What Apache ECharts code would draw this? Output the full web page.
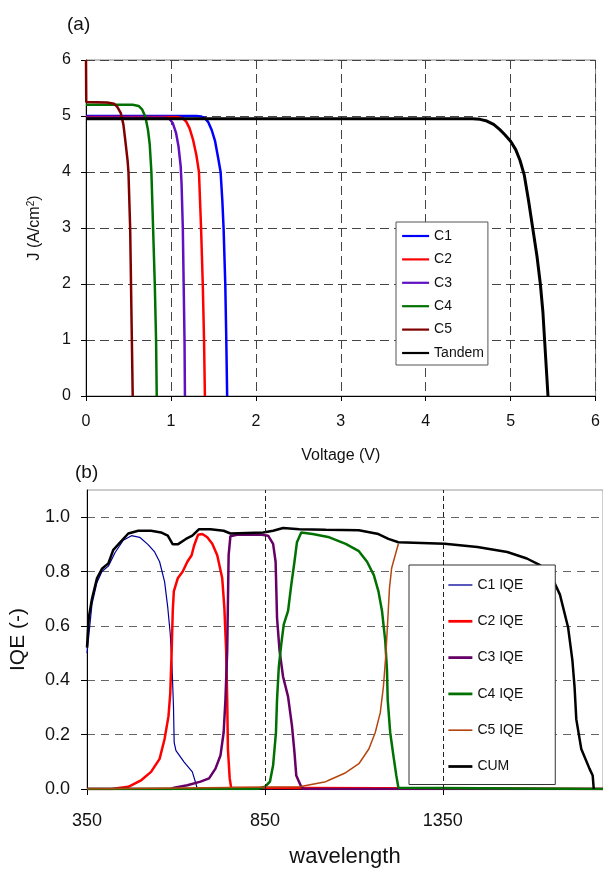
<!DOCTYPE html>
<html>
<head>
<meta charset="utf-8">
<script src="https://cdn.jsdelivr.net/npm/echarts@6/dist/echarts.min.js"></script>
<style>
html,body{margin:0;padding:0;background:#fff;}
#container{width:603px;height:869px;}
</style>
</head>
<body>
<div id="container"></div>
<script>
// (a) J-V curves, pairs of [V, J]
var jvC1 = [[0,5.0],[1.30,5.0],[1.36,4.99],[1.40,4.96],[1.44,4.89],[1.48,4.75],[1.52,4.55],[1.56,4.22],[1.585,4.0],[1.605,3.5],[1.62,3.0],[1.64,2.0],[1.652,1.0],[1.662,0]];
var jvC2 = [[0,4.98],[1.08,4.98],[1.14,4.96],[1.18,4.9],[1.22,4.78],[1.26,4.58],[1.30,4.3],[1.33,4.0],[1.355,3.0],[1.375,2.0],[1.39,1.0],[1.40,0]];
var jvC3 = [[0,4.97],[0.93,4.97],[0.98,4.95],[1.02,4.88],[1.06,4.7],[1.09,4.45],[1.115,4.1],[1.125,3.8],[1.14,3.0],[1.15,2.0],[1.16,1.0],[1.165,0]];
var jvC4 = [[0,5.2],[0.55,5.2],[0.62,5.18],[0.66,5.12],[0.70,4.98],[0.73,4.75],[0.75,4.5],[0.77,4.0],[0.79,3.0],[0.81,2.0],[0.825,1.0],[0.833,0]];
var jvC5 = [[0,6.0],[0.003,5.25],[0.25,5.24],[0.33,5.22],[0.37,5.16],[0.41,5.05],[0.44,4.85],[0.46,4.6],[0.49,4.2],[0.50,4.0],[0.52,3.0],[0.53,2.0],[0.54,1.0],[0.55,0]];
var jvTandem = [[0,4.95],[4.55,4.95],[4.64,4.94],[4.72,4.91],[4.80,4.85],[4.87,4.76],[4.93,4.67],[5.0,4.55],[5.06,4.4],[5.11,4.21],[5.16,3.95],[5.21,3.5],[5.26,3.0],[5.31,2.5],[5.35,2.0],[5.38,1.5],[5.40,1.0],[5.42,0.5],[5.44,0]];

// (b) IQE, pairs of [wavelength, IQE]
var iqeC1 = [[350,0.5],[364,0.68],[378,0.76],[392,0.80],[410,0.82],[429,0.87],[452,0.915],[475,0.932],[498,0.926],[521,0.90],[540,0.872],[554,0.836],[568,0.763],[577,0.667],[584,0.57],[589,0.449],[593,0.304],[595,0.171],[600,0.141],[623,0.099],[646,0.063],[656,0.02],[660,0],[1800,0]];
var iqeC2 = [[350,0],[419,0],[466,0.008],[503,0.033],[530,0.063],[554,0.111],[568,0.184],[579,0.268],[584,0.353],[588,0.51],[591,0.655],[594,0.727],[605,0.775],[619,0.80],[632,0.836],[644,0.86],[651,0.896],[662,0.935],[674,0.938],[688,0.926],[702,0.902],[716,0.86],[730,0.775],[736,0.667],[741,0.51],[744,0.328],[746,0.147],[751,0.039],[755,0.005],[760,0],[1800,0]];
var iqeC3 = [[350,0],[586,0],[595,0.005],[632,0.014],[669,0.027],[693,0.039],[711,0.075],[725,0.123],[734,0.208],[739,0.328],[744,0.51],[746,0.69],[748,0.86],[753,0.93],[771,0.935],[836,0.936],[859,0.932],[873,0.902],[880,0.836],[884,0.63],[891,0.51],[901,0.413],[915,0.34],[926,0.232],[933,0.135],[938,0.05],[952,0.008],[960,0],[1800,0]];
var iqeC4 = [[350,0],[827,0],[850,0.008],[864,0.027],[873,0.087],[881,0.208],[884,0.328],[889,0.449],[896,0.534],[903,0.606],[915,0.655],[924,0.751],[933,0.836],[940,0.908],[952,0.944],[984,0.938],[1031,0.926],[1077,0.902],[1114,0.875],[1137,0.836],[1156,0.787],[1169,0.727],[1179,0.655],[1188,0.546],[1193,0.437],[1195,0.328],[1202,0.208],[1211,0.123],[1219,0.051],[1225,0.005],[1230,0],[1800,0]];
var iqeC5 = [[350,0],[947,0.008],[1021,0.027],[1031,0.033],[1077,0.06],[1114,0.093],[1142,0.147],[1160,0.208],[1174,0.28],[1183,0.377],[1190,0.498],[1195,0.618],[1200,0.739],[1206,0.812],[1216,0.86],[1225,0.902]];
var iqeCum = [[350,0.52],[355,0.63],[364,0.70],[378,0.775],[392,0.81],[410,0.83],[424,0.88],[438,0.90],[466,0.94],[494,0.95],[530,0.95],[558,0.944],[577,0.932],[591,0.90],[605,0.90],[628,0.92],[646,0.932],[665,0.956],[697,0.956],[734,0.95],[753,0.94],[799,0.942],[845,0.944],[873,0.95],[901,0.96],[947,0.956],[1021,0.954],[1114,0.952],[1169,0.938],[1197,0.92],[1225,0.908],[1355,0.902],[1447,0.89],[1531,0.872],[1586,0.848],[1623,0.824],[1656,0.78],[1679,0.715],[1702,0.594],[1714,0.473],[1720,0.377],[1725,0.256],[1739,0.147],[1762,0.075],[1771,0.05],[1774,0]];

var jvNames = ['C1', 'C2', 'C3', 'C4', 'C5', 'Tandem'];
var iqeNames = ['C1 IQE', 'C2 IQE', 'C3 IQE', 'C4 IQE', 'C5 IQE', 'CUM'];
var iqeTicks = [0, 0.2, 0.4, 0.6, 0.8, 1.0];
var waveTicks = [350, 850, 1350];
var waveGridLines = [850, 1350];

// line looks
var jvColors = ['#0000ff', '#ff0000', '#6010c0', '#007000', '#800000', '#000000'];
var jvWidths = [2.5, 2.5, 2.5, 2.5, 2.5, 3];
var iqeColors = ['#000099', '#ff0000', '#660066', '#007000', '#b5460f', '#000000'];
var iqeWidths = [1.2, 2.5, 2.5, 2.5, 1.5, 2.5];

var font = "'Liberation Sans', Arial, sans-serif";
var dom = document.getElementById('container');
var myChart = echarts.init(dom, null, { renderer: 'canvas' });

function line(name, data, color, width, xi) {
    return {
        name: name,
        type: 'line',
        xAxisIndex: xi,
        yAxisIndex: xi,
        data: data,
        symbol: 'none',
        lineStyle: { color: color, width: width },
        itemStyle: { color: color },
        emphasis: { disabled: true }
    };
}

var jvData = [jvC1, jvC2, jvC3, jvC4, jvC5, jvTandem];
var iqeData = [iqeC1, iqeC2, iqeC3, iqeC4, iqeC5, iqeCum];
var series = [];
jvNames.forEach(function (n, i) { series.push(line(n, jvData[i], jvColors[i], jvWidths[i], 0)); });
iqeNames.forEach(function (n, i) { series.push(line(n, iqeData[i], iqeColors[i], iqeWidths[i], 1)); });

// vertical dashed lines of panel (b)
series[6].markLine = {
    silent: true,
    symbol: ['none', 'none'],
    label: { show: false },
    lineStyle: { type: [5, 3], color: '#222', width: 1 },
    data: waveGridLines.map(function (v) { return { xAxis: v }; })
};

var option = {
    animation: false,
    textStyle: { fontFamily: font },
    title: [
        { text: '(a)', left: 67, top: 15, padding: 0, textStyle: { fontSize: 19, fontWeight: 'normal', color: '#111', fontFamily: font } },
        { text: '(b)', left: 75, top: 463, padding: 0, textStyle: { fontSize: 19, fontWeight: 'normal', color: '#111', fontFamily: font } }
    ],
    grid: [
        { left: 86, top: 60, right: 7, bottom: 473, show: true, borderColor: '#888', borderWidth: 1 },
        { left: 85, top: 490, right: -4, bottom: 75, show: true, borderColor: '#999', borderWidth: 1 }
    ],
    legend: [
        {
            data: jvNames.map(function (n) { return { name: n, lineStyle: { width: 2.2 } }; }),
            orient: 'vertical', left: 396, top: 222,
            itemWidth: 27, itemHeight: 14, itemGap: 9.4, padding: [7, 4, 5, 5],
            borderColor: '#555', borderWidth: 1, backgroundColor: '#fff',
            itemStyle: { opacity: 0, borderWidth: 0 },
            textStyle: { fontSize: 14, color: '#111', fontFamily: font }
        },
        {
            data: iqeNames.map(function (n, i) { return { name: n, lineStyle: { width: iqeWidths[i] * 1.1 } }; }),
            orient: 'vertical', left: 409, top: 565,
            itemWidth: 24, itemHeight: 14, itemGap: 22.3, padding: [13, 32, 11, 38],
            borderColor: '#333', borderWidth: 1, backgroundColor: '#fff',
            itemStyle: { opacity: 0, borderWidth: 0 },
            textStyle: { fontSize: 14, color: '#111', fontFamily: font }
        }
    ],
    xAxis: [
        {
            gridIndex: 0, type: 'value', min: 0, max: 6, interval: 1,
            name: 'Voltage (V)', nameLocation: 'middle', nameGap: 52,
            nameTextStyle: { fontSize: 16, color: '#111' },
            axisLine: { onZero: false, lineStyle: { color: '#000', width: 1 } },
            axisTick: { length: 5, lineStyle: { color: '#000' } },
            axisLabel: { fontSize: 16, color: '#111', margin: 18 },
            splitLine: { show: true, lineStyle: { type: [9, 5], color: '#444', width: 1 } }
        },
        {
            gridIndex: 1, type: 'value', min: 350, max: 1800,
            name: 'wavelength', nameLocation: 'middle', nameGap: 57,
            nameTextStyle: { fontSize: 22, color: '#111' },
            axisLine: { onZero: false, lineStyle: { color: '#000', width: 1 } },
            axisTick: { length: 6, lineStyle: { color: '#000' }, customValues: waveTicks },
            axisLabel: {
                fontSize: 18, color: '#111', margin: 23, customValues: waveTicks,
                formatter: function (v) { return String(v); }
            },
            splitLine: { show: false }
        }
    ],
    yAxis: [
        {
            gridIndex: 0, type: 'value', min: 0, max: 6, interval: 1,
            name: '{n|J (A/cm}{sup|2}{n|)}', nameLocation: 'middle', nameGap: 42,
            nameTextStyle: {
                color: '#111',
                rich: {
                    n: { fontSize: 16, lineHeight: 18, color: '#111', fontFamily: font },
                    sup: { fontSize: 10, lineHeight: 10, verticalAlign: 'top', color: '#111', fontFamily: font }
                }
            },
            axisLine: { onZero: false, lineStyle: { color: '#000', width: 1 } },
            axisTick: { length: 5, lineStyle: { color: '#000' } },
            axisLabel: { fontSize: 16, color: '#111', margin: 15 },
            splitLine: { show: true, lineStyle: { type: [9, 5], color: '#444', width: 1 } }
        },
        {
            gridIndex: 1, type: 'value', min: 0, max: 1.1, interval: 0.2,
            name: 'IQE (-)', nameLocation: 'middle', nameGap: 58,
            nameTextStyle: { fontSize: 21, color: '#111' },
            axisLine: { onZero: false, lineStyle: { color: '#000', width: 1 } },
            axisTick: { length: 6, lineStyle: { color: '#000' }, customValues: iqeTicks },
            axisLabel: {
                fontSize: 18, color: '#111', margin: 17, showMaxLabel: false,
                formatter: function (v) { return v.toFixed(1); }
            },
            splitLine: { show: true, lineStyle: { type: [8, 6], color: '#666', width: 1 } }
        }
    ],
    series: series
};

myChart.setOption(option);
window.addEventListener('resize', function () {
    myChart.resize();
});
</script>
</body>
</html>
